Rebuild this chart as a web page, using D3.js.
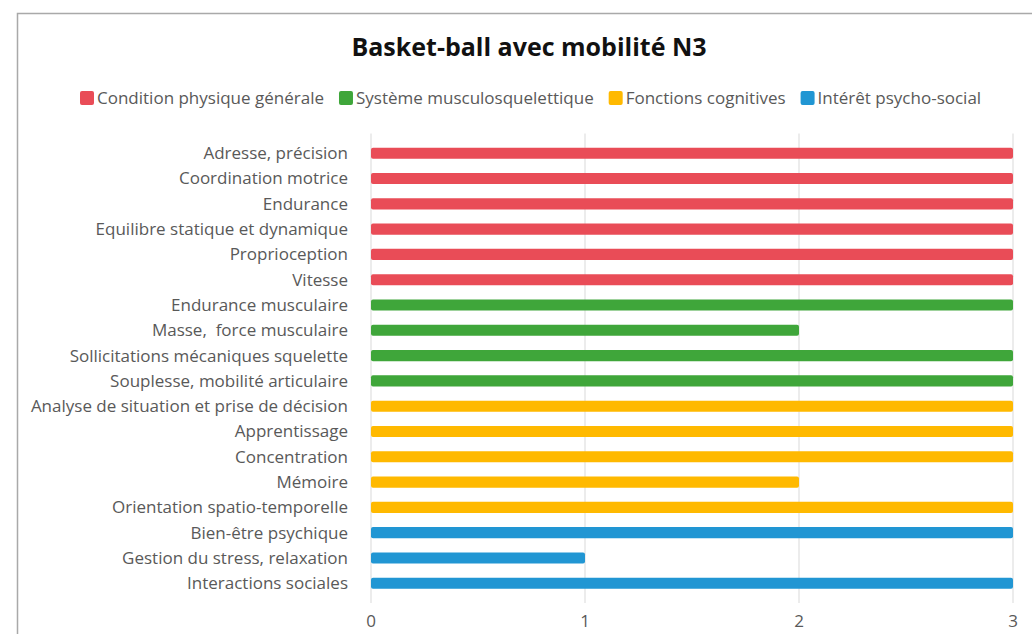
<!DOCTYPE html>
<html>
<head>
<meta charset="utf-8">
<script src="https://cdn.jsdelivr.net/npm/d3@7"></script>
<style>
  body { margin: 0; background: #fff; }
  svg text { font-family: "Open Sans", "Noto Sans", sans-serif; white-space: pre; }
</style>
</head>
<body>
<div id="chart"></div>
<script>
// Chart data
var categories = [
    "Adresse, précision", "Coordination motrice", "Endurance",
    "Equilibre statique et dynamique", "Proprioception", "Vitesse",
    "Endurance musculaire", "Masse,  force musculaire",
    "Sollicitations mécaniques squelette", "Souplesse, mobilité articulaire",
    "Analyse de situation et prise de décision", "Apprentissage", "Concentration",
    "Mémoire", "Orientation spatio-temporelle",
    "Bien-être psychique", "Gestion du stress, relaxation", "Interactions sociales"
];
var values = [3, 3, 3, 3, 3, 3, 3, 2, 3, 3, 3, 3, 3, 2, 3, 3, 1, 3];
// group index of each category
var groupOf = [0, 0, 0, 0, 0, 0, 1, 1, 1, 1, 2, 2, 2, 2, 2, 3, 3, 3];
var groups = ["Condition physique générale", "Système musculosquelettique", "Fonctions cognitives", "Intérêt psycho-social"];
var groupColors = ["#e94c57", "#3fa63a", "#ffb900", "#2196d3"];
var xTicks = [0, 1, 2, 3];

var width = 1032, height = 634;
var plotLeft = 371, plotRight = 1013, plotTop = 133.5, plotBottom = 603;

var svg = d3.select("#chart").append("svg")
    .attr("width", width)
    .attr("height", height);

// outer frame
svg.append("rect")
    .attr("x", 17.5).attr("y", 13.5)
    .attr("width", 1040).attr("height", 640)
    .style("fill", "none")
    .style("stroke", "#a9a9a9")
    .style("stroke-width", 1.5);

// title
svg.append("text")
    .attr("x", 529).attr("y", 56)
    .attr("text-anchor", "middle")
    .style("font-size", "25px")
    .style("font-weight", "bold")
    .style("fill", "#111")
    .text("Basket-ball avec mobilité N3");

// scales
var x = d3.scaleLinear().domain([0, 3]).range([plotLeft, plotRight]);
var y = d3.scaleBand().domain(categories).range([plotTop, plotBottom]).padding(0.56);

// vertical gridlines
svg.selectAll(".grid")
    .data(xTicks)
    .enter()
    .append("line")
    .attr("class", "grid")
    .attr("x1", d => x(d)).attr("x2", d => x(d))
    .attr("y1", plotTop).attr("y2", plotBottom)
    .style("stroke", "#d9d9d9")
    .style("stroke-width", 1);

// bars
svg.selectAll(".bar")
    .data(categories)
    .enter()
    .append("rect")
    .attr("class", "bar")
    .attr("x", x(0))
    .attr("y", d => y(d))
    .attr("width", (d, i) => x(values[i]) - x(0))
    .attr("height", y.bandwidth())
    .attr("rx", 2)
    .style("fill", (d, i) => groupColors[groupOf[i]]);

// category labels
svg.selectAll(".cat")
    .data(categories)
    .enter()
    .append("text")
    .attr("class", "cat")
    .attr("x", 348)
    .attr("y", d => y(d) + y.bandwidth() / 2)
    .attr("dy", "0.35em")
    .attr("text-anchor", "end")
    .style("font-size", "17px")
    .style("fill", "#595959")
    .text(d => d);

// x axis labels
svg.selectAll(".tick-label")
    .data(xTicks)
    .enter()
    .append("text")
    .attr("class", "tick-label")
    .attr("x", d => x(d))
    .attr("y", 627)
    .attr("text-anchor", "middle")
    .style("font-size", "17px")
    .style("fill", "#595959")
    .text(d => d);

// legend
var legend = svg.append("g").attr("transform", "translate(80,98)");
var lx = 0;
groups.forEach(function (g, i) {
    var item = legend.append("g").attr("transform", "translate(" + lx + ",0)");
    item.append("rect")
        .attr("x", 0).attr("y", -7)
        .attr("width", 14).attr("height", 14)
        .attr("rx", 2)
        .style("fill", groupColors[i]);
    var t = item.append("text")
        .attr("x", 17).attr("dy", "0.35em")
        .style("font-size", "17px")
        .style("fill", "#595959")
        .text(g);
    lx += 17 + t.node().getComputedTextLength() + 15;
});
</script>
</body>
</html>
